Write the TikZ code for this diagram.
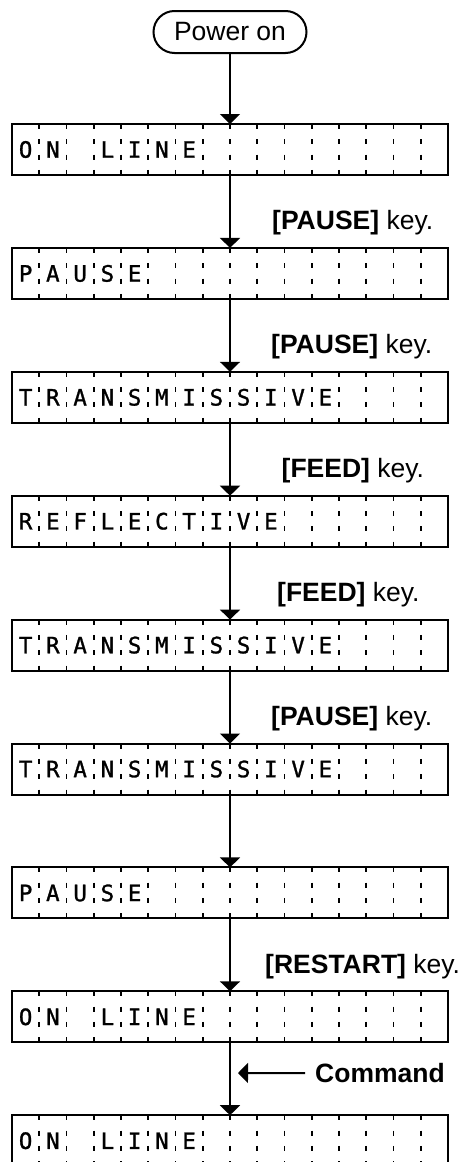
\documentclass[tikz,border=0pt]{standalone}
\usepackage{fontspec}
\setmainfont{Liberation Sans}
\newfontfamily\lcdfont[FakeBold=1.2]{DejaVu Sans Mono}
\usepackage{tikz}
\usetikzlibrary{positioning,arrows.meta,calc}
\tikzset{
startbox/.style={
draw,
line width=2pt,
rounded corners=21pt,
minimum width=153pt,
minimum height=42pt,
inner sep=0pt,
outer sep=0pt,
font=\fontsize{26.5}{30}\selectfont
},
lcd/.style={
draw,
line width=2pt,
minimum width=436pt,
minimum height=51pt,
inner sep=0pt,
outer sep=0pt
},
sep/.style={
line width=1.8pt,
dash pattern=on 5pt off 10.33pt
},
lcdchar/.style={
inner sep=0pt,
anchor=base,
font=\lcdfont\fontsize{22.5}{22.5}\selectfont
},
keylabel/.style={
inner sep=0pt,
anchor=base west,
font=\fontsize{26.5}{30}\selectfont
},
arrow/.style={
-{Triangle[length=10pt,width=20pt]},
line width=2pt
}
}

\begin{document}
\begin{tikzpicture}[node distance=72.9pt]
\useasboundingbox (0,0) rectangle (466pt,-1162pt);
\node[startbox](start) at (230pt,-32pt){Power on};
\node[lcd,below=71pt of start](a){};
\node[lcd,below=of a](b){};
\node[lcd,below=of b](c){};
\node[lcd,below=of c](d){};
\node[lcd,below=of d](e){};
\node[lcd,below=of e](f){};
\node[lcd,below=of f](g){};
\node[lcd,below=of g](h){};
\node[lcd,below=of h](i){};

% cell separators
\foreach \b in {a,b,c,d,e,f,g,h,i}
\foreach \k in {1,...,15}
\draw[sep]([xshift=\k*27.25pt]\b.north west)--([xshift=\k*27.25pt]\b.south west);

% display texts, one character per cell
\foreach \b/\txt in {a/{O,N,,L,I,N,E},b/{P,A,U,S,E},c/{T,R,A,N,S,M,I,S,S,I,V,E},d/{R,E,F,L,E,C,T,I,V,E},e/{T,R,A,N,S,M,I,S,S,I,V,E},f/{T,R,A,N,S,M,I,S,S,I,V,E},g/{P,A,U,S,E},h/{O,N,,L,I,N,E},i/{O,N,,L,I,N,E}}
\foreach \c[count=\k] in \txt
\node[lcdchar] at ([xshift=\k*27.25pt-13.625pt,yshift=-8.2pt]\b.west){\c};

\draw[arrow](start)--(a);
\foreach \x/\y in {a/b,b/c,c/d,d/e,e/f,f/g,g/h,h/i}
\draw[arrow](\x)--(\y);

\node[keylabel](k1) at ([xshift=42pt,yshift=18pt]b.north){\textbf{[PAUSE]} key.};
\node[keylabel](k2) at ([xshift=41pt,yshift=18pt]c.north){\textbf{[PAUSE]} key.};
\node[keylabel](k3) at ([xshift=51.5pt,yshift=18pt]d.north){\textbf{[FEED]} key.};
\node[keylabel](k4) at ([xshift=47pt,yshift=18pt]e.north){\textbf{[FEED]} key.};
\node[keylabel](k5) at ([xshift=41pt,yshift=18pt]f.north){\textbf{[PAUSE]} key.};
\node[keylabel](k6) at ([xshift=35pt,yshift=18pt]h.north){\textbf{[RESTART]} key.};

\node[keylabel](cmd) at (315pt,-1082.5pt){\textbf{Command}};
\coordinate(cmdtip) at (238pt,-1073pt);
\draw[arrow]([xshift=-10pt]cmd.west)--(cmdtip);
\end{tikzpicture}
\end{document}
